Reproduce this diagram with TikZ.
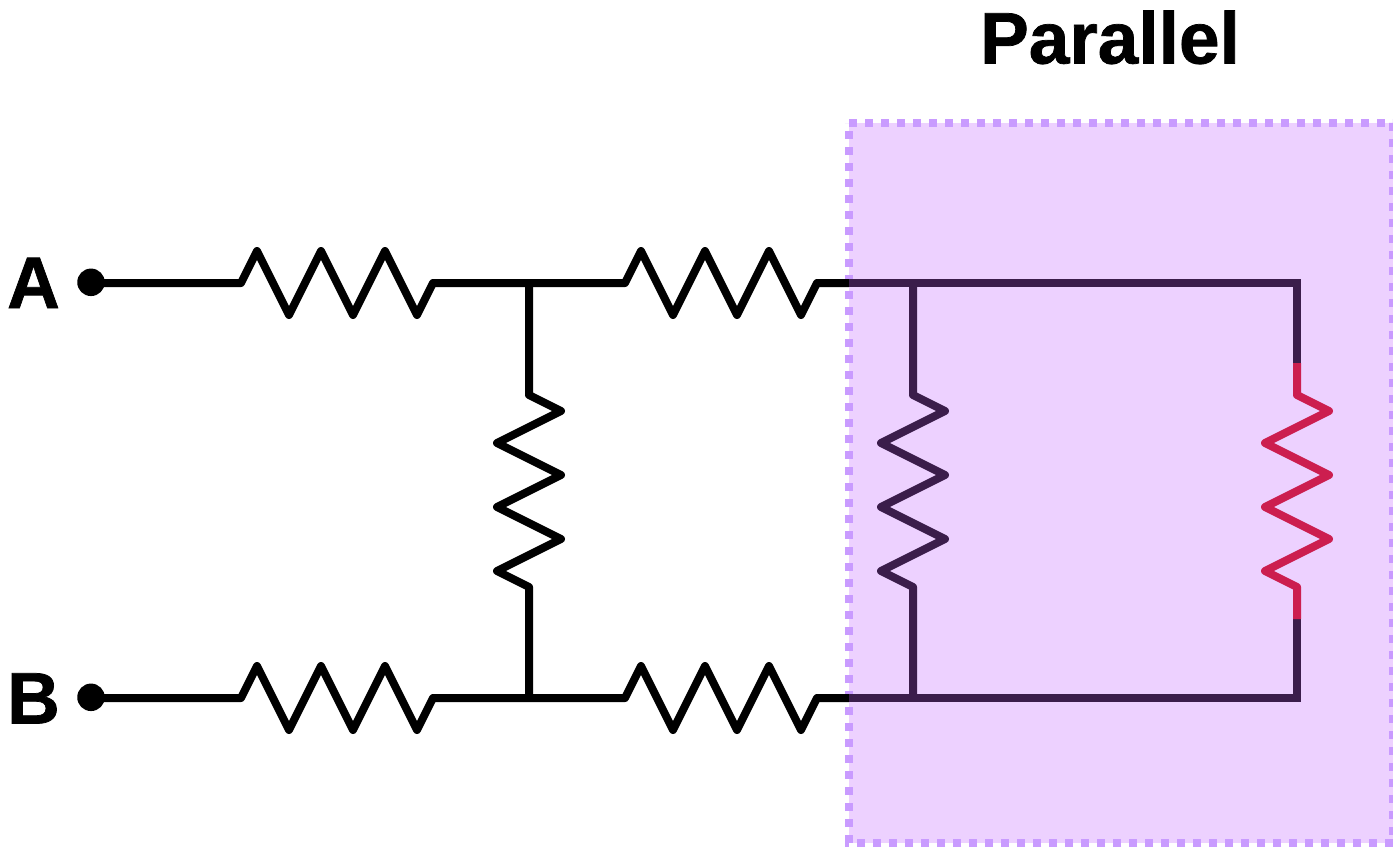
\documentclass[tikz,border=0pt]{standalone}
\usepackage{fontspec}
\setmainfont[BoldFeatures={FakeBold=1}]{Liberation Sans}
\definecolor{boxfill}{HTML}{EDD1FF}
\definecolor{boxline}{HTML}{C99BFF}
\definecolor{darkwire}{HTML}{3B1D4B}
\definecolor{redwire}{HTML}{CC1E4F}
\tikzset{
  wire/.style={line width=8pt,line join=round},
  term/.style={circle,fill=black,inner sep=0pt,minimum size=27.5pt},
  lab/.style={font=\bfseries\fontsize{73}{73}\selectfont,anchor=base,inner sep=0pt},
  resh/.style={to path={-- ++(16,-32) -- ++(32,64) -- ++(32,-64) -- ++(32,64) -- ++(32,-64) -- ++(32,64) -- (\tikztotarget)}},
  resv/.style={to path={-- ++(32,16) -- ++(-64,32) -- ++(64,32) -- ++(-64,32) -- ++(64,32) -- ++(-64,32) -- (\tikztotarget)}},
}
\begin{document}
\begin{tikzpicture}[x=1pt,y=-1pt]
  \useasboundingbox (0,0) rectangle (1393,847);
  \fill[boxfill](849,123) rectangle (1393,843);
  \draw[boxline,line width=8pt,dash pattern=on 8pt off 8pt](849,123)--(1393,123)--(1393,843)--(849,843)--cycle;
  \node[lab] (parallel) at (1110,63.5) {Parallel};
  \node[lab] (labA) at (33.5,308) {A};
  \node[lab] (labB) at (33.5,723.5) {B};
  \node[term] (termA) at (91,282.3) {};
  \node[term] (termB) at (91,697.3) {};
  % top and bottom branches
  \coordinate (ja) at (529,283);
  \coordinate (jb) at (529,698);
  \coordinate (ka) at (849,283);
  \coordinate (kb) at (849,698);
  \coordinate (la) at (913,283);
  \coordinate (lb) at (913,698);
  \coordinate (ma) at (1297,283);
  \coordinate (mb) at (1297,698);
  \draw[wire](termA |- ja)--(241,283) to[resh] (433,283)--(ja)--(625,283) to[resh] (817,283)--(ka);
  \draw[wire](termB |- jb)--(241,698) to[resh] (433,698)--(jb)--(625,698) to[resh] (817,698)--(kb);
  \draw[wire](ja)--(529,395) to[resv] (529,587)--(jb);
  % inside the box
  \draw[wire,darkwire](la)--(913,395) to[resv] (913,587)--(lb);
  \draw[wire,darkwire,line join=miter](ka)--(ma)--(1297,363);
  \draw[wire,darkwire,line join=miter](kb)--(mb)--(1297,619);
  \draw[wire,redwire](1297,363)--(1297,395) to[resv] (1297,587)--(1297,619);
\end{tikzpicture}
\end{document}
